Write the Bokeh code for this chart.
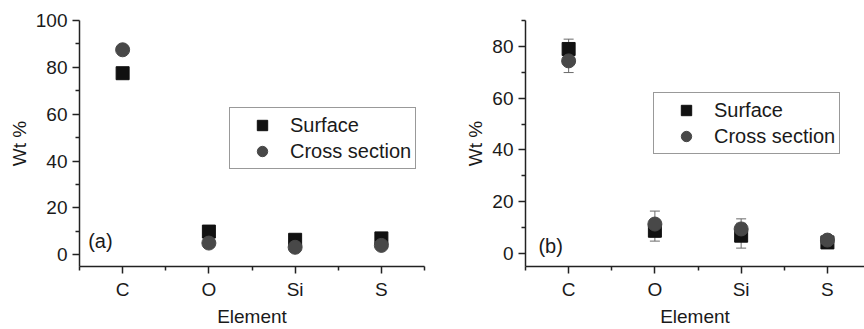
from bokeh.plotting import figure
from bokeh.layouts import row
from bokeh.models import (ColumnDataSource, FixedTicker, Legend, LegendItem, Label,
                          Whisker, TeeHead, Range1d)
from bokeh.embed import file_html
from bokeh.resources import INLINE

# ---------------- data ----------------
elements = ["C", "O", "Si", "S"]
xpos = [1, 2, 3, 4]

# panel (a)
a_surface = [77.5, 9.9, 6.4, 7.0]
a_cross = [87.5, 5.0, 3.2, 4.0]

# panel (b)
b_surface = [79.0, 8.8, 6.9, 4.3]
b_surface_err = [3.8, 4.0, 4.8, 1.0]
b_cross = [74.4, 11.4, 9.5, 5.2]
b_cross_err = [4.5, 5.0, 3.9, 1.0]

y_ticks_a = [0, 20, 40, 60, 80, 100]
y_minor_a = [-10, 10, 30, 50, 70, 90]
y_ticks_b = [0, 20, 40, 60, 80]
y_minor_b = [-10, 10, 30, 50, 70, 90]

FONT = "Liberation Sans"
TXT = "#1a1a1a"
SQ_COLOR = "#111111"
CI_COLOR = "#484848"
ERR_COLOR = "#6a6a6a"


def style(p, yt, ym):
    p.xaxis.ticker = FixedTicker(ticks=xpos, minor_ticks=[0.5, 1.5, 2.5, 3.5, 4.5])
    p.xaxis.major_label_overrides = {x: e for x, e in zip(xpos, elements)}
    p.yaxis.ticker = FixedTicker(ticks=yt, minor_ticks=ym)
    for ax in (p.xaxis[0], p.yaxis[0]):
        ax.axis_line_color = "#222222"
        ax.axis_line_width = 1.5
        ax.major_tick_line_color = "#222222"
        ax.minor_tick_line_color = "#222222"
        ax.major_tick_line_width = 1.5
        ax.minor_tick_line_width = 1.5
        ax.major_tick_out = 7
        ax.major_tick_in = 0
        ax.minor_tick_out = 4
        ax.minor_tick_in = 0
        ax.major_label_text_font = FONT
        ax.major_label_text_font_size = "19px"
        ax.major_label_text_color = TXT
        ax.axis_label_text_font = FONT
        ax.axis_label_text_font_size = "19px"
        ax.axis_label_text_font_style = "normal"
        ax.axis_label_text_color = TXT
        ax.major_label_standoff = 5
        ax.axis_label_standoff = 3
    p.xaxis.axis_label = "Element"
    p.yaxis.axis_label = "Wt %"
    p.xgrid.visible = False
    p.ygrid.visible = False
    p.outline_line_color = None
    p.background_fill_color = "white"
    p.border_fill_color = "white"


def add_legend(p, r_sq, r_ci, loc):
    leg = Legend(items=[LegendItem(label="Surface", renderers=[r_sq]),
                        LegendItem(label="Cross section", renderers=[r_ci])],
                 location=loc)
    leg.label_text_font = FONT
    leg.label_text_font_size = "20px"
    leg.label_text_color = TXT
    leg.glyph_height = 26
    leg.glyph_width = 56
    leg.label_height = 24
    leg.label_standoff = 0
    leg.spacing = 0
    leg.padding = 4
    leg.margin = 0
    leg.border_line_color = "#333333"
    leg.border_line_width = 1
    leg.background_fill_alpha = 1
    p.add_layout(leg)


# ---------------- panel (a) ----------------
pa = figure(width=432, height=329, output_backend="svg", toolbar_location=None,
            x_range=Range1d(0.5, 4.5), y_range=Range1d(-5, 100),
            min_border_left=79, min_border_right=8, min_border_top=20, min_border_bottom=63)
src_a = ColumnDataSource(dict(x=xpos, s=a_surface, c=a_cross))
ra1 = pa.scatter("x", "s", source=src_a, marker="square", size=13,
                 fill_color=SQ_COLOR, line_color=SQ_COLOR)
ra2 = pa.scatter("x", "c", source=src_a, marker="circle", size=14,
                 fill_color=CI_COLOR, line_color=CI_COLOR)
style(pa, y_ticks_a, y_minor_a)
add_legend(pa, ra1, ra2, (150, 97))
pa.add_layout(Label(x=0.6, y=6, text="(a)", text_font=FONT, text_font_size="20px",
                    text_color=TXT, text_baseline="middle"))

# ---------------- panel (b) ----------------
pb = figure(width=432, height=329, output_backend="svg", toolbar_location=None,
            x_range=Range1d(0.5, 4.43), y_range=Range1d(-5, 90),
            min_border_left=93, min_border_right=0, min_border_top=20, min_border_bottom=63)
src_b = ColumnDataSource(dict(
    x=xpos, s=b_surface, c=b_cross,
    s_up=[v + e for v, e in zip(b_surface, b_surface_err)],
    s_lo=[v - e for v, e in zip(b_surface, b_surface_err)],
    c_up=[v + e for v, e in zip(b_cross, b_cross_err)],
    c_lo=[v - e for v, e in zip(b_cross, b_cross_err)],
))
for up, lo in (("s_up", "s_lo"), ("c_up", "c_lo")):
    w = Whisker(base="x", upper=up, lower=lo, source=src_b, line_color=ERR_COLOR,
                line_width=1,
                upper_head=TeeHead(size=10, line_color=ERR_COLOR, line_width=1),
                lower_head=TeeHead(size=10, line_color=ERR_COLOR, line_width=1))
    pb.add_layout(w)
rb1 = pb.scatter("x", "s", source=src_b, marker="square", size=13,
                 fill_color=SQ_COLOR, line_color=SQ_COLOR)
rb2 = pb.scatter("x", "c", source=src_b, marker="circle", size=14,
                 fill_color=CI_COLOR, line_color=CI_COLOR)
style(pb, y_ticks_b, y_minor_b)
add_legend(pb, rb1, rb2, (128, 112))
pb.add_layout(Label(x=0.65, y=3, text="(b)", text_font=FONT, text_font_size="20px",
                    text_color=TXT, text_baseline="middle"))

layout = row(pa, pb, spacing=0)
open("out.html", "w").write(file_html(layout, INLINE))
